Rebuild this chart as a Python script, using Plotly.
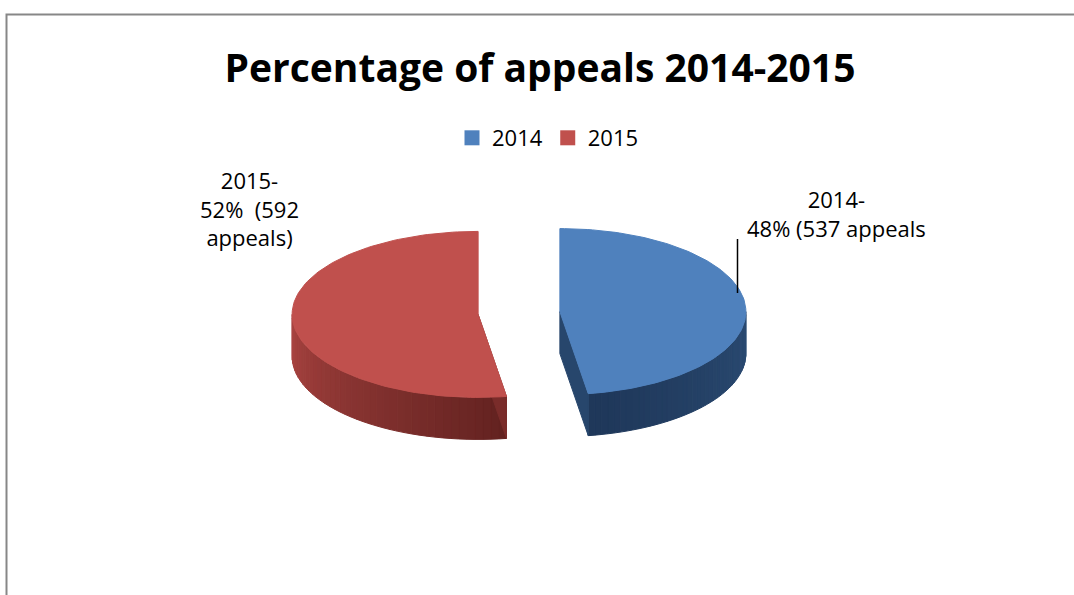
import numpy as np
import plotly.graph_objects as go

# ---- data ----
years = ["2014", "2015"]
appeals = [537, 592]
percents = [48, 52]
label_texts = ["2014-<br>48% (537 appeals", "2015-<br>52%  (592<br>appeals)"]

# ---- style ----
top_colors = ["#4F81BD", "#C0504D"]
side_from = [(0x2B, 0x4B, 0x73), (0xAA, 0x44, 0x41)]
side_to = [(0x1F, 0x38, 0x5A), (0x64, 0x23, 0x21)]
radial_face = ["#27466C", "#7A2C2A"]

W, H = 1074, 595
cx, cy = 519, 313
rx, ry = 186, 83
depth = 42
pull = 41

fig = go.Figure()

total = sum(appeals)
fracs = [v / total for v in appeals]
starts = np.cumsum([0] + fracs[:-1]) * 360.0


def rim(c, th):
    t = np.radians(th)
    return c[0] + rx * np.sin(t), c[1] - ry * np.cos(t)


def lerp(a, b, f):
    return "rgb(%d,%d,%d)" % tuple(int(a[i] + (b[i] - a[i]) * f) for i in range(3))


for i in range(len(appeals)):
    a0 = starts[i]
    a1 = a0 + fracs[i] * 360.0
    mid = np.radians((a0 + a1) / 2)
    c = (cx + pull * np.sin(mid), cy - pull * (ry / rx) * np.cos(mid))

    # visible outer rim: front half (angles 90..270)
    lo, hi = max(a0, 90.0), min(a1, 270.0)
    if hi > lo:
        n = 40
        ths = np.linspace(lo, hi, n + 1)
        for k in range(n):
            x1, y1 = rim(c, ths[k])
            x2, y2 = rim(c, ths[k + 1])
            f = k / (n - 1)
            if i == 1:
                f = 1 - f
            col = lerp(side_from[i], side_to[i], f)
            fig.add_trace(go.Scatter(
                x=[x1, x2, x2, x1, x1], y=[y1, y2, y2 + depth, y1 + depth, y1],
                fill="toself", mode="lines", fillcolor=col,
                line=dict(color=col, width=1), hoverinfo="skip", showlegend=False))

    # radial cut face
    edge = a1 if i == 0 else a0
    xe, ye = rim(c, edge)
    fig.add_trace(go.Scatter(
        x=[c[0], xe, xe, c[0], c[0]], y=[c[1], ye, ye + depth, c[1] + depth, c[1]],
        fill="toself", mode="lines", fillcolor=radial_face[i],
        line=dict(color=radial_face[i], width=1), hoverinfo="skip", showlegend=False))

    # top face
    ths = np.linspace(a0, a1, 120)
    px = [c[0]] + [rim(c, t)[0] for t in ths] + [c[0]]
    py = [c[1]] + [rim(c, t)[1] for t in ths] + [c[1]]
    fig.add_trace(go.Scatter(
        x=px, y=py, fill="toself", mode="lines", fillcolor=top_colors[i],
        line=dict(color=top_colors[i], width=1),
        name=years[i], text=f"{years[i]}: {appeals[i]} appeals ({percents[i]}%)",
        hoverinfo="text", showlegend=False))

# legend entries
for i in range(len(years)):
    fig.add_trace(go.Scatter(
        x=[None], y=[None], mode="markers", name=years[i],
        marker=dict(symbol="square", size=15, color=top_colors[i])))

# data labels
fig.add_annotation(x=836, y=213, text=label_texts[0], showarrow=False,
                   font=dict(size=22, color="#000000"), align="center")
fig.add_annotation(x=249, y=208, text=label_texts[1], showarrow=False,
                   font=dict(size=22, color="#000000"), align="center")
fig.add_shape(type="line", x0=737.5, y0=239, x1=737.5, y1=293,
              line=dict(color="#000000", width=1.5))

# chart border (left and top edges visible)
fig.add_shape(type="rect", x0=6.5, y0=14.5, x1=W + 20, y1=H + 20,
              line=dict(color="#878787", width=2))

fig.update_layout(
    width=W, height=H,
    margin=dict(l=0, r=0, t=0, b=0),
    paper_bgcolor="white", plot_bgcolor="white",
    font=dict(family="Open Sans, Liberation Sans, sans-serif", color="#000000"),
    title=dict(text="<b>Percentage of appeals 2014-2015</b>", x=540 / W, xanchor="center",
               y=1 - 68 / H, yanchor="middle",
               font=dict(size=39, family="Open Sans, sans-serif", color="#000000")),
    legend=dict(orientation="h", x=548 / W, xanchor="center", y=1 - 138 / H, yanchor="middle",
                font=dict(size=22), itemwidth=30, tracegroupgap=0),
    xaxis=dict(range=[0, W], visible=False, fixedrange=True),
    yaxis=dict(range=[H, 0], visible=False, fixedrange=True),
)

fig.write_html("out.html", config={"displayModeBar": False},
               post_script="document.body.style.margin='0';")
